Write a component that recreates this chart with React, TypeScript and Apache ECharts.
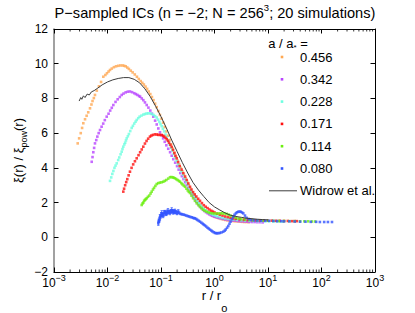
import React, { useEffect, useRef } from 'react';
import * as echarts from 'echarts';

// ---- data: pairs of [log10(r / r_o), xi(r)/xi_pow(r)] ----
const seriesLabels = ['0.456', '0.342', '0.228', '0.171', '0.114', '0.080'];
const seriesColors = ['#ffa852', '#b845ff', '#6effe0', '#ff1010', '#6cef10', '#3355ff'];
const widrowLabel = 'Widrow et al.';
const legendTitle = 'a / a{sub|*} =';
const titleText = 'P−sampled ICs (n = −2; N = 256{sup|3}; 20 simulations)';
const xTickExponents = [-3, -2, -1, 0, 1, 2, 3];
const yTicks = [-2, 0, 2, 4, 6, 8, 10, 12];
const minorMantissas = [2, 3, 4, 5, 6, 7, 8, 9];

const a0456: [number, number][] = [
  [-2.557, 5.41], [-2.53, 5.7], [-2.5, 6.0], [-2.475, 6.3], [-2.452, 6.57], [-2.42, 6.8], [-2.39, 7.0], [-2.36, 7.2],
  [-2.327, 7.43], [-2.3, 7.65], [-2.28, 7.85], [-2.255, 8.02], [-2.234, 8.2], [-2.2, 8.45], [-2.16, 8.7], [-2.12, 8.95],
  [-2.078, 9.25], [-2.04, 9.35], [-2.01, 9.45], [-1.98, 9.55], [-1.953, 9.64], [-1.92, 9.72], [-1.88, 9.8], [-1.84, 9.85],
  [-1.8, 9.88], [-1.76, 9.9], [-1.72, 9.9], [-1.69, 9.88], [-1.66, 9.85], [-1.63, 9.78], [-1.6, 9.7], [-1.565, 9.6],
  [-1.53, 9.5], [-1.49, 9.38], [-1.45, 9.25], [-1.415, 9.12], [-1.38, 9.0], [-1.35, 8.9], [-1.32, 8.8], [-1.29, 8.68],
  [-1.26, 8.55], [-1.23, 8.4], [-1.2, 8.25], [-1.17, 8.08], [-1.14, 7.9], [-1.11, 7.7], [-1.08, 7.5], [-1.05, 7.28],
  [-1.02, 7.05], [-0.99, 6.83], [-0.96, 6.6], [-0.93, 6.35], [-0.9, 6.1], [-0.87, 5.85], [-0.84, 5.6], [-0.81, 5.35],
  [-0.78, 5.1], [-0.75, 4.88], [-0.72, 4.65], [-0.69, 4.42], [-0.66, 4.2], [-0.63, 4.0], [-0.6, 3.8], [-0.57, 3.6],
  [-0.54, 3.4], [-0.51, 3.2], [-0.48, 3.0], [-0.45, 2.8], [-0.42, 2.6], [-0.39, 2.45], [-0.36, 2.3], [-0.33, 2.15],
  [-0.3, 2.0], [-0.27, 1.87], [-0.24, 1.75], [-0.21, 1.65], [-0.18, 1.55], [-0.15, 1.47], [-0.12, 1.4], [-0.09, 1.34],
  [-0.06, 1.28], [-0.03, 1.23], [0.0, 1.18], [0.04, 1.14], [0.08, 1.1], [0.12, 1.06], [0.16, 1.03], [0.2, 1.0],
  [0.24, 0.98], [0.28, 0.96], [0.32, 0.95], [0.36, 0.93], [0.4, 0.92], [0.44, 0.91], [0.48, 0.9], [0.52, 0.89],
  [0.56, 0.88], [0.6, 0.88], [0.64, 0.87],
];

const a0342: [number, number][] = [
  [-2.295, 4.35], [-2.28, 4.62], [-2.265, 4.9], [-2.25, 5.15], [-2.234, 5.41], [-2.21, 5.6], [-2.19, 5.8], [-2.165, 6.0],
  [-2.14, 6.18], [-2.11, 6.37], [-2.08, 6.55], [-2.05, 6.75], [-2.015, 6.95], [-1.98, 7.12], [-1.95, 7.3], [-1.92, 7.46],
  [-1.891, 7.62], [-1.85, 7.8], [-1.81, 7.95], [-1.77, 8.08], [-1.735, 8.2], [-1.7, 8.28], [-1.66, 8.35], [-1.62, 8.39],
  [-1.58, 8.4], [-1.54, 8.36], [-1.5, 8.3], [-1.47, 8.25], [-1.44, 8.2], [-1.41, 8.14], [-1.39, 8.1], [-1.36, 8.0],
  [-1.33, 7.9], [-1.3, 7.77], [-1.267, 7.62], [-1.235, 7.47], [-1.2, 7.3], [-1.17, 7.12], [-1.144, 6.95], [-1.11, 6.72],
  [-1.08, 6.5], [-1.05, 6.27], [-1.019, 6.05], [-0.99, 5.88], [-0.96, 5.7], [-0.93, 5.5], [-0.9, 5.3], [-0.865, 5.1],
  [-0.83, 4.9], [-0.8, 4.7], [-0.77, 4.5], [-0.735, 4.3], [-0.7, 4.1], [-0.67, 3.9], [-0.64, 3.7], [-0.61, 3.52],
  [-0.58, 3.35], [-0.55, 3.17], [-0.52, 3.0], [-0.49, 2.82], [-0.46, 2.65], [-0.43, 2.5], [-0.4, 2.35], [-0.37, 2.2],
  [-0.34, 2.05], [-0.31, 1.92], [-0.28, 1.8], [-0.25, 1.7], [-0.22, 1.6], [-0.19, 1.52], [-0.16, 1.45], [-0.13, 1.39],
  [-0.1, 1.33], [-0.07, 1.28], [-0.04, 1.24], [-0.01, 1.2], [0.02, 1.17], [0.06, 1.13], [0.1, 1.1], [0.15, 1.06],
  [0.2, 1.03], [0.25, 1.0], [0.3, 0.98], [0.35, 0.96], [0.4, 0.95], [0.45, 0.93], [0.5, 0.92], [0.55, 0.91],
  [0.6, 0.9], [0.65, 0.89], [0.7, 0.88], [0.75, 0.88], [0.8, 0.87], [0.85, 0.87], [0.9, 0.86],
];

const a0228: [number, number][] = [
  [-1.953, 3.25], [-1.93, 3.45], [-1.91, 3.65], [-1.89, 3.82], [-1.87, 4.0], [-1.85, 4.13], [-1.828, 4.26], [-1.8, 4.45],
  [-1.78, 4.6], [-1.755, 4.78], [-1.735, 4.93], [-1.72, 5.08], [-1.705, 5.22], [-1.685, 5.35], [-1.67, 5.45], [-1.655, 5.58],
  [-1.641, 5.7], [-1.62, 5.82], [-1.6, 5.95], [-1.575, 6.12], [-1.548, 6.3], [-1.525, 6.42], [-1.5, 6.55], [-1.475, 6.66],
  [-1.454, 6.76], [-1.425, 6.86], [-1.4, 6.95], [-1.365, 7.01], [-1.33, 7.07], [-1.3, 7.1], [-1.27, 7.13], [-1.24, 7.14],
  [-1.206, 7.14], [-1.17, 7.1], [-1.14, 7.05], [-1.11, 6.98], [-1.08, 6.9], [-1.055, 6.78], [-1.03, 6.65], [-1.01, 6.52],
  [-0.987, 6.4], [-0.965, 6.25], [-0.94, 6.1], [-0.915, 5.92], [-0.893, 5.75], [-0.865, 5.55], [-0.84, 5.35], [-0.815, 5.17],
  [-0.79, 5.0], [-0.765, 4.8], [-0.74, 4.6], [-0.71, 4.4], [-0.68, 4.2], [-0.65, 4.0], [-0.62, 3.8], [-0.59, 3.6],
  [-0.56, 3.4], [-0.53, 3.22], [-0.5, 3.05], [-0.47, 2.87], [-0.44, 2.7], [-0.41, 2.55], [-0.38, 2.4], [-0.35, 2.25],
  [-0.32, 2.1], [-0.29, 1.97], [-0.26, 1.85], [-0.23, 1.75], [-0.2, 1.65], [-0.17, 1.57], [-0.14, 1.5], [-0.11, 1.44],
  [-0.08, 1.38], [-0.05, 1.33], [-0.02, 1.28], [0.02, 1.24], [0.05, 1.2], [0.1, 1.16], [0.15, 1.12], [0.2, 1.09],
  [0.25, 1.06], [0.3, 1.04], [0.35, 1.02], [0.42, 1.0], [0.5, 0.98], [0.57, 0.97], [0.65, 0.95], [0.72, 0.94],
  [0.8, 0.93], [0.87, 0.93], [0.95, 0.92], [1.02, 0.92], [1.1, 0.91], [1.17, 0.91], [1.23, 0.9], [1.28, 0.9],
];

const a0171: [number, number][] = [
  [-1.705, 2.63], [-1.69, 2.8], [-1.67, 3.0], [-1.65, 3.18], [-1.63, 3.35], [-1.605, 3.57], [-1.58, 3.78], [-1.55, 4.0],
  [-1.52, 4.2], [-1.487, 4.38], [-1.454, 4.55], [-1.42, 4.73], [-1.39, 4.9], [-1.36, 5.06], [-1.331, 5.22], [-1.3, 5.4],
  [-1.27, 5.55], [-1.24, 5.68], [-1.206, 5.8], [-1.18, 5.86], [-1.15, 5.9], [-1.112, 5.93], [-1.08, 5.92], [-1.05, 5.9],
  [-1.02, 5.9], [-0.987, 5.89], [-0.96, 5.85], [-0.94, 5.8], [-0.915, 5.73], [-0.893, 5.65], [-0.87, 5.56], [-0.85, 5.45],
  [-0.825, 5.33], [-0.8, 5.2], [-0.775, 5.03], [-0.75, 4.85], [-0.73, 4.7], [-0.707, 4.55], [-0.68, 4.33], [-0.65, 4.1],
  [-0.615, 3.9], [-0.583, 3.69], [-0.55, 3.5], [-0.52, 3.3], [-0.49, 3.1], [-0.458, 2.91], [-0.43, 2.75], [-0.4, 2.6],
  [-0.37, 2.47], [-0.34, 2.35], [-0.305, 2.22], [-0.271, 2.1], [-0.235, 1.97], [-0.2, 1.85], [-0.165, 1.76], [-0.13, 1.68],
  [-0.095, 1.6], [-0.06, 1.53], [-0.03, 1.48], [0.0, 1.43], [0.05, 1.36], [0.1, 1.3], [0.15, 1.25], [0.2, 1.2],
  [0.25, 1.16], [0.3, 1.12], [0.35, 1.09], [0.4, 1.07], [0.47, 1.04], [0.55, 1.02], [0.62, 1.0], [0.7, 0.99],
  [0.77, 0.98], [0.85, 0.97], [0.92, 0.97], [1.0, 0.96], [1.07, 0.96], [1.15, 0.95], [1.22, 0.95], [1.3, 0.94],
  [1.37, 0.94], [1.45, 0.93], [1.5, 0.93], [1.54, 0.93],
];

const a0114: [number, number][] = [
  [-1.361, 1.86], [-1.345, 1.95], [-1.33, 2.0], [-1.315, 2.1], [-1.3, 2.15], [-1.285, 2.2], [-1.267, 2.25], [-1.245, 2.33],
  [-1.22, 2.4], [-1.195, 2.52], [-1.174, 2.63], [-1.15, 2.75], [-1.13, 2.85], [-1.105, 2.96], [-1.08, 3.07], [-1.05, 3.12],
  [-1.02, 3.15], [-0.99, 3.17], [-0.957, 3.2], [-0.93, 3.25], [-0.9, 3.3], [-0.865, 3.38], [-0.832, 3.46], [-0.805, 3.47],
  [-0.78, 3.45], [-0.76, 3.43], [-0.738, 3.4], [-0.715, 3.35], [-0.69, 3.3], [-0.665, 3.25], [-0.645, 3.2], [-0.62, 3.12],
  [-0.6, 3.05], [-0.575, 2.98], [-0.551, 2.91], [-0.525, 2.8], [-0.5, 2.7], [-0.48, 2.62], [-0.458, 2.55], [-0.43, 2.4],
  [-0.4, 2.25], [-0.365, 2.1], [-0.333, 1.96], [-0.3, 1.85], [-0.27, 1.75], [-0.24, 1.66], [-0.21, 1.58], [-0.18, 1.52],
  [-0.146, 1.47], [-0.11, 1.43], [-0.08, 1.4], [-0.04, 1.38], [0.0, 1.37], [0.04, 1.37], [0.08, 1.37], [0.115, 1.38],
  [0.15, 1.38], [0.19, 1.37], [0.228, 1.35], [0.265, 1.3], [0.3, 1.25], [0.35, 1.18], [0.4, 1.12], [0.45, 1.08],
  [0.5, 1.05], [0.57, 1.02], [0.65, 1.0], [0.72, 0.98], [0.8, 0.97], [0.9, 0.96], [1.0, 0.95], [1.1, 0.95],
  [1.2, 0.94], [1.3, 0.94], [1.4, 0.93], [1.5, 0.93], [1.6, 0.92], [1.68, 0.92], [1.75, 0.92], [1.82, 0.91], [1.88, 0.91],
];

const a0080: [number, number][] = [
  [-1.05, 0.81], [-1.04, 0.95], [-1.03, 1.0], [-1.02, 1.15], [-1.01, 1.2], [-0.995, 1.3], [-0.987, 1.38], [-0.975, 1.3],
  [-0.96, 1.25], [-0.945, 1.38], [-0.93, 1.45], [-0.915, 1.4], [-0.9, 1.35], [-0.885, 1.45], [-0.87, 1.5], [-0.85, 1.46],
  [-0.832, 1.42], [-0.815, 1.5], [-0.8, 1.55], [-0.785, 1.5], [-0.77, 1.45], [-0.755, 1.48], [-0.74, 1.5], [-0.72, 1.45],
  [-0.7, 1.4], [-0.677, 1.47], [-0.66, 1.42], [-0.64, 1.35], [-0.62, 1.34], [-0.6, 1.32], [-0.575, 1.3], [-0.551, 1.28],
  [-0.525, 1.25], [-0.5, 1.22], [-0.475, 1.2], [-0.45, 1.17], [-0.425, 1.15], [-0.4, 1.12], [-0.38, 1.1], [-0.364, 1.09],
  [-0.34, 1.05], [-0.32, 1.0], [-0.295, 0.95], [-0.271, 0.9], [-0.245, 0.84], [-0.22, 0.78], [-0.2, 0.73], [-0.178, 0.68],
  [-0.155, 0.62], [-0.13, 0.55], [-0.107, 0.5], [-0.084, 0.44], [-0.06, 0.39], [-0.04, 0.34], [-0.015, 0.29], [0.009, 0.25],
  [0.03, 0.24], [0.05, 0.23], [0.075, 0.24], [0.1, 0.25], [0.13, 0.28], [0.164, 0.32], [0.19, 0.38], [0.21, 0.45],
  [0.235, 0.55], [0.258, 0.65], [0.28, 0.78], [0.3, 0.9], [0.325, 1.05], [0.351, 1.19], [0.375, 1.3], [0.4, 1.38],
  [0.42, 1.44], [0.445, 1.47], [0.468, 1.48], [0.49, 1.47], [0.515, 1.43], [0.538, 1.38], [0.57, 1.25], [0.6, 1.12],
  [0.64, 1.05], [0.68, 1.0], [0.74, 0.98], [0.8, 0.97], [0.87, 0.96], [0.95, 0.95], [1.02, 0.95], [1.1, 0.94],
  [1.17, 0.93], [1.25, 0.93], [1.3, 0.92], [1.4, 0.92], [1.5, 0.91], [1.6, 0.9], [1.7, 0.9], [1.8, 0.89],
  [1.9, 0.89], [1.97, 0.88], [2.05, 0.88], [2.12, 0.88], [2.196, 0.88],
];
// half-length of the error bars on the first points of the a/a* = 0.080 set
const a0080Err = [0.12, 0.1, 0.12, 0.15, 0.1, 0.12, 0.15, 0.1, 0.12, 0.15, 0.1, 0.12, 0.1, 0.12, 0.15, 0.1,
  0.12, 0.1, 0.15, 0.1, 0.12, 0.1, 0.12, 0.1, 0.1, 0.12];

const widrow: [number, number][] = [
  [-2.53, 7.85], [-2.5, 8.05], [-2.48, 7.95], [-2.45, 8.15], [-2.42, 8.05], [-2.38, 8.25], [-2.34, 8.2], [-2.3, 8.38],
  [-2.25, 8.45], [-2.18, 8.6], [-2.1, 8.78], [-2.0, 8.95], [-1.9, 9.07], [-1.8, 9.15], [-1.7, 9.2], [-1.6, 9.2],
  [-1.5, 9.1], [-1.4, 8.9], [-1.3, 8.55], [-1.2, 8.1], [-1.1, 7.55], [-1.0, 6.95], [-0.9, 6.3], [-0.8, 5.6],
  [-0.7, 4.95], [-0.6, 4.3], [-0.5, 3.7], [-0.4, 3.15], [-0.3, 2.72], [-0.2, 2.35], [-0.1, 2.0], [0.0, 1.75],
  [0.1, 1.57], [0.2, 1.4], [0.3, 1.27], [0.4, 1.2], [0.5, 1.15], [0.6, 1.1], [0.7, 1.07], [0.8, 1.04], [0.9, 1.02], [1.0, 1.0],
];

const FONT = '"Liberation Sans", Arial, Helvetica, sans-serif';
const W = 415;
const H = 313;
const GRID = { left: 54, right: 40, top: 29, bottom: 41 };

const toR = (set: [number, number][]) => set.map(([l, y]) => [Math.pow(10, l), y]);
const minus = (v: number) => (v < 0 ? '−' + Math.abs(v) : String(v));

export default function App() {
  const ref = useRef<HTMLDivElement>(null);

  useEffect(() => {
    if (!ref.current) return;
    const chart = echarts.init(ref.current, null, { renderer: 'svg' });
    const sets = [a0456, a0342, a0228, a0171, a0114, a0080];

    const series: any[] = sets.map((set, i) => ({
      type: 'scatter',
      name: seriesLabels[i],
      symbol: 'rect',
      symbolSize: 2.6,
      itemStyle: { color: seriesColors[i] },
      data: toR(set),
      silent: true,
      z: 2,
    }));

    series.push({
      type: 'custom',
      name: 'err',
      coordinateSystem: 'cartesian2d',
      silent: true,
      z: 2,
      encode: { x: 0, y: 1 },
      data: a0080Err.map((e, i) => [Math.pow(10, a0080[i][0]), a0080[i][1], e]),
      renderItem: (params: any, api: any) => {
        const x = api.value(0);
        const y = api.value(1);
        const e = api.value(2);
        const lo = api.coord([x, y - e]);
        const hi = api.coord([x, y + e]);
        const st = { stroke: seriesColors[5], lineWidth: 0.8 };
        return {
          type: 'group',
          children: [
            { type: 'line', shape: { x1: lo[0], y1: lo[1], x2: hi[0], y2: hi[1] }, style: st },
            { type: 'line', shape: { x1: lo[0] - 1.2, y1: lo[1], x2: lo[0] + 1.2, y2: lo[1] }, style: st },
            { type: 'line', shape: { x1: hi[0] - 1.2, y1: hi[1], x2: hi[0] + 1.2, y2: hi[1] }, style: st },
          ],
        };
      },
    });

    series.push({
      type: 'line',
      name: widrowLabel,
      data: toR(widrow),
      showSymbol: false,
      symbol: 'none',
      lineStyle: { color: '#3c3c3c', width: 1 },
      silent: true,
      z: 3,
    });

    // minor ticks of the log axis (2..9 × each decade), bottom and top
    const minorVals: number[][] = [];
    xTickExponents.slice(0, -1).forEach((ex) => {
      minorMantissas.forEach((m) => minorVals.push([m * Math.pow(10, ex), 0]));
    });
    series.push({
      type: 'custom',
      name: 'minor',
      coordinateSystem: 'cartesian2d',
      silent: true,
      z: 5,
      encode: { x: 0, y: 1 },
      data: minorVals,
      renderItem: (params: any, api: any) => {
        const px = api.coord([api.value(0), 0])[0];
        const cs = params.coordSys;
        const yb = cs.y + cs.height;
        const yt = cs.y;
        const st = { stroke: '#000', lineWidth: 0.8 };
        return {
          type: 'group',
          children: [
            { type: 'line', shape: { x1: px, y1: yb, x2: px, y2: yb - 2.5 }, style: st },
            { type: 'line', shape: { x1: px, y1: yt, x2: px, y2: yt + 2.5 }, style: st },
          ],
        };
      },
    });

    // legend drawn as graphic elements from the label / colour arrays
    const legendX = 282;
    const legendTop = 57;
    const legendStep = 22.3;
    const legendChildren: any[] = [
      {
        type: 'text',
        x: 288,
        y: 43,
        style: {
          text: legendTitle,
          font: `13px ${FONT}`,
          fill: '#000',
          align: 'center',
          verticalAlign: 'middle',
          rich: { sub: { fontSize: 8, verticalAlign: 'bottom', lineHeight: 16, fontFamily: FONT } },
        },
      },
    ];
    seriesLabels.forEach((lab, i) => {
      const y = legendTop + i * legendStep;
      legendChildren.push({
        type: 'rect',
        shape: { x: legendX - 1.3, y: y - 1.3, width: 2.6, height: 2.6 },
        style: { fill: seriesColors[i] },
      });
      legendChildren.push({
        type: 'text',
        x: 300,
        y,
        style: { text: lab, font: `13px ${FONT}`, fill: '#000', verticalAlign: 'middle' },
      });
    });
    const lineY = legendTop + 6 * legendStep;
    legendChildren.push({
      type: 'line',
      shape: { x1: 269, y1: lineY, x2: 297, y2: lineY },
      style: { stroke: '#3c3c3c', lineWidth: 1 },
    });
    legendChildren.push({
      type: 'text',
      x: 300,
      y: lineY,
      style: { text: widrowLabel, font: `13px ${FONT}`, fill: '#000', verticalAlign: 'middle' },
    });

    const xMin = Math.pow(10, xTickExponents[0]);
    const xMax = Math.pow(10, xTickExponents[xTickExponents.length - 1]);

    chart.setOption({
      animation: false,
      backgroundColor: '#fff',
      textStyle: { fontFamily: FONT },
      title: {
        text: titleText,
        left: 215,
        textAlign: 'center',
        top: 2,
        padding: 0,
        textStyle: {
          fontFamily: FONT,
          fontSize: 14.6,
          fontWeight: 'normal',
          color: '#000',
          lineHeight: 22,
          rich: { sup: { fontSize: 9.5, verticalAlign: 'top', fontFamily: FONT, color: '#000' } },
        },
      },
      grid: { ...GRID, outerBoundsMode: 'none', containLabel: false },
      xAxis: [
        {
          type: 'log',
          logBase: 10,
          min: xMin,
          max: xMax,
          position: 'bottom',
          name: 'r / r{sub|o}',
          nameLocation: 'middle',
          nameGap: 5,
          nameMoveOverlap: false,
          nameTextStyle: {
            fontFamily: FONT,
            fontSize: 13,
            color: '#000',
            lineHeight: 36,
            verticalAlign: 'top',
            rich: { sub: { fontSize: 11, lineHeight: 13, verticalAlign: 'bottom', fontFamily: FONT, color: '#000' } },
          },
          axisLine: { show: true, onZero: false, lineStyle: { color: '#000', width: 1 } },
          axisTick: { show: true, inside: true, length: 4.5, lineStyle: { color: '#000' } },
          splitLine: { show: false },
          axisLabel: {
            margin: 1.5,
            color: '#000',
            fontSize: 12,
            fontFamily: FONT,
            lineHeight: 18,
            formatter: (v: number) => '10{sup|' + minus(Math.round(Math.log10(v))) + '}',
            rich: { sup: { fontSize: 9, verticalAlign: 'top', fontFamily: FONT, color: '#000' } },
          },
        },
        {
          type: 'log',
          logBase: 10,
          min: xMin,
          max: xMax,
          position: 'top',
          axisLine: { show: true, onZero: false, lineStyle: { color: '#000', width: 1 } },
          axisTick: { show: true, inside: true, length: 4.5, lineStyle: { color: '#000' } },
          axisLabel: { show: false },
          splitLine: { show: false },
        },
      ],
      yAxis: [
        {
          type: 'value',
          min: yTicks[0],
          max: yTicks[yTicks.length - 1],
          interval: 2,
          position: 'left',
          name: 'ξ(r) / ξ{sub|pow}(r)',
          nameLocation: 'middle',
          nameGap: 26,
          nameMoveOverlap: false,
          nameRotate: 90,
          nameTextStyle: {
            fontFamily: FONT,
            fontSize: 13,
            color: '#000',
            lineHeight: 20,
            rich: { sub: { fontSize: 9, verticalAlign: 'bottom', fontFamily: FONT, color: '#000' } },
          },
          axisLine: { show: true, onZero: false, lineStyle: { color: '#8a8a8a', width: 1.6 } },
          axisTick: { show: true, inside: true, length: 4.5, lineStyle: { color: '#000' } },
          splitLine: { show: false },
          axisLabel: { margin: 6, color: '#000', fontSize: 12, fontFamily: FONT, formatter: (v: number) => minus(v) },
        },
        {
          type: 'value',
          min: yTicks[0],
          max: yTicks[yTicks.length - 1],
          interval: 2,
          position: 'right',
          axisLine: { show: true, onZero: false, lineStyle: { color: '#000', width: 1 } },
          axisTick: { show: true, inside: true, length: 4.5, lineStyle: { color: '#000' } },
          axisLabel: { show: false },
          splitLine: { show: false },
        },
      ],
      graphic: [{ type: 'group', children: legendChildren }],
      series,
    });

    return () => chart.dispose();
  }, []);

  return (
    <div
      ref={ref}
      style={{ position: 'fixed', left: 0, top: 0, width: W, height: H, background: '#fff' }}
    />
  );
}
